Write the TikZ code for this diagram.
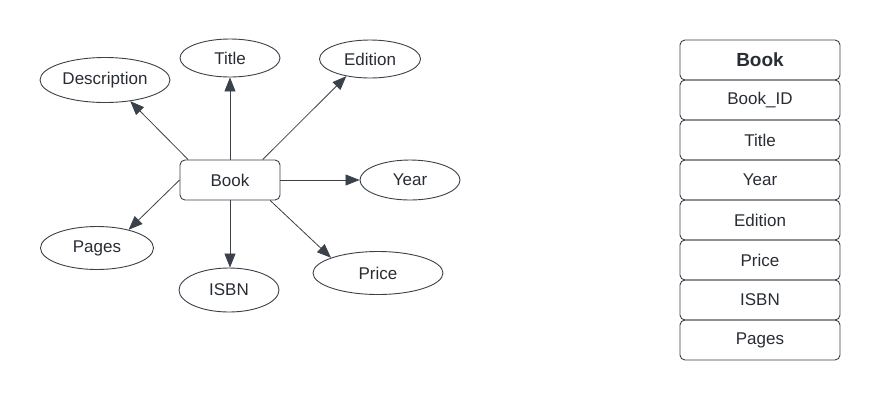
\documentclass[tikz,border=0pt]{standalone}
\usepackage{fontspec}
\setmainfont{Liberation Sans}
\usepackage{xcolor}
\usepackage{tikz}
\usetikzlibrary{arrows.meta, positioning, shapes.geometric}
\definecolor{inkgray}{HTML}{3A414A}
\definecolor{textgray}{HTML}{282C33}
\tikzset{
    attr/.style={ellipse, draw=inkgray, line width=0.9pt, inner sep=0pt, text=textgray, font=\fontsize{17}{20}\selectfont},
    entity/.style={draw=inkgray, line width=0.9pt, rounded corners=5pt, minimum width=100pt, minimum height=40pt, inner sep=0pt, text=textgray, font=\fontsize{17}{20}\selectfont},
    link/.style={-{Triangle[length=14pt, width=11pt]}, draw=inkgray, line width=0.8pt},
    field/.style={draw=inkgray, line width=0.9pt, rounded corners=5pt, minimum width=160pt, minimum height=40pt, inner sep=0pt, outer sep=0pt, text=textgray, font=\fontsize{17}{20}\selectfont}
}

\begin{document}
\begin{tikzpicture}[x=1pt, y=-1pt]
    \useasboundingbox (0,0) rectangle (881,400);
    % Entity + attributes
    \node[entity] (book) at (230,180) {Book};
    \node[attr, minimum width=130pt, minimum height=45pt] (desc) at (105,80) {Description};
    \node[attr, minimum width=100pt, minimum height=38pt] (title) at (230,58) {Title};
    \node[attr, minimum width=101pt, minimum height=38pt] (edition) at (370,59) {Edition};
    \node[attr, minimum width=100pt, minimum height=40pt] (year) at (410,180) {Year};
    \node[attr, minimum width=130pt, minimum height=43pt] (price) at (378,273) {Price};
    \node[attr, minimum width=100pt, minimum height=44pt] (isbn) at (229,290) {ISBN};
    \node[attr, minimum width=113pt, minimum height=43pt] (pages) at (97,248) {Pages};
    % Links
    \draw[link] (book.154) -- (desc.320);
    \draw[link] (book.north) -- (title.south);
    \draw[link] (book.32) -- (edition.216);
    \draw[link] (book.east) -- (year.west);
    \draw[link] (book.333) -- (price.162);
    \draw[link] (book.south) -- (book.south |- isbn.north);
    \draw[link] (book.west) -- (pages.30);
    % Table
    \node[field, font=\fontsize{19}{22}\selectfont\bfseries] (tabbook) at (760,60) {Book};
    \node[field, below=0pt of tabbook] (tabid) {Book\_ID};
    \node[field, below=0pt of tabid] (tabtitle) {Title};
    \node[field, below=0pt of tabtitle] (tabyear) {Year};
    \node[field, below=0pt of tabyear] (tabedition) {Edition};
    \node[field, below=0pt of tabedition] (tabprice) {Price};
    \node[field, below=0pt of tabprice] (tabisbn) {ISBN};
    \node[field, below=0pt of tabisbn] (tabpages) {Pages};
\end{tikzpicture}
\end{document}
